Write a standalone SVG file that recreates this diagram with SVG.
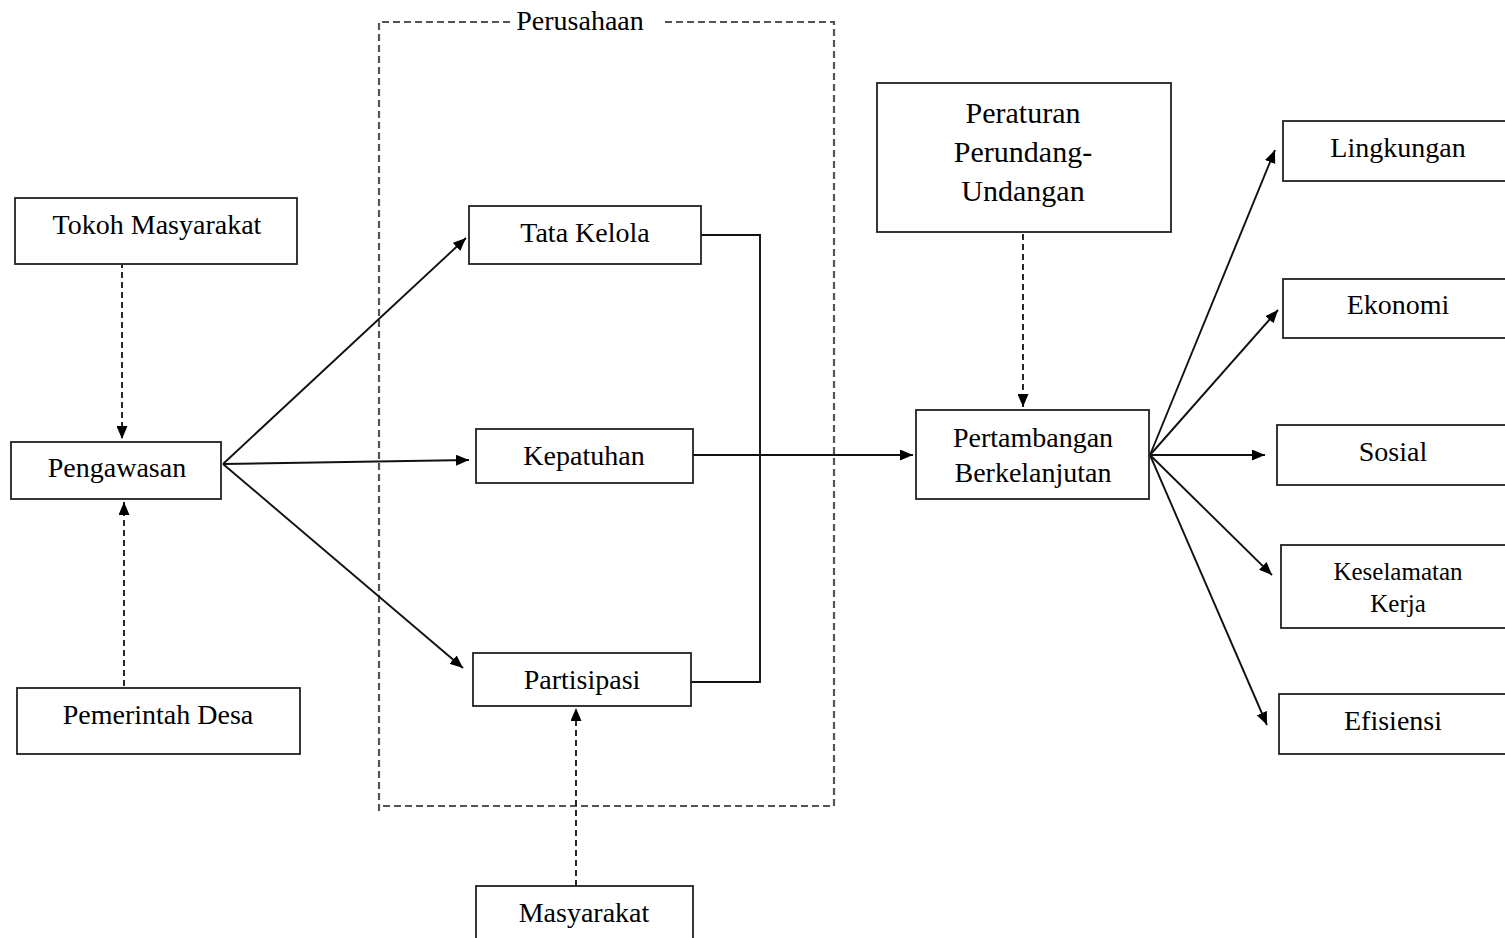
<svg xmlns="http://www.w3.org/2000/svg" width="1505" height="938" viewBox="0 0 1505 938">
<style>
.box{fill:#fff;stroke:#222;stroke-width:1.8}
.t{font-family:"Liberation Serif","Times New Roman",serif;font-size:28px;fill:#000;text-anchor:middle}
.ln{fill:none;stroke:#111;stroke-width:1.9}
.dl{fill:none;stroke:#111;stroke-width:1.8;stroke-dasharray:6,4}
.grp{fill:none;stroke:#555;stroke-width:2.2;stroke-dasharray:7,4}
</style>
<defs>
<marker id="ah" viewBox="0 0 13 11" refX="13" refY="5.5" markerWidth="13" markerHeight="11" markerUnits="userSpaceOnUse" orient="auto">
<path d="M0,0 L13,5.5 L0,11 Z" fill="#000"/>
</marker>
</defs>
<rect width="1505" height="938" fill="#fff"/>

<g id="perusahaan">
<path class="grp" d="M510,22 L379,22 L379,812"/>
<path class="grp" d="M665,22 L834,22 L834,806 L379,806"/>
<text class="t" x="580" y="30">Perusahaan</text>
</g>

<g id="connectors">
<line class="dl" x1="122" y1="262" x2="122" y2="439" marker-end="url(#ah)"/>
<line class="dl" x1="124" y1="686" x2="124" y2="502" marker-end="url(#ah)"/>
<line class="ln" x1="223" y1="464" x2="466" y2="238" marker-end="url(#ah)"/>
<line class="ln" x1="223" y1="464" x2="469" y2="460" marker-end="url(#ah)"/>
<line class="ln" x1="223" y1="464" x2="463" y2="668" marker-end="url(#ah)"/>
<path class="ln" d="M701,235 L760,235 L760,682 L691,682"/>
<line class="ln" x1="693" y1="455" x2="913" y2="455" marker-end="url(#ah)"/>
<line class="dl" x1="576" y1="886" x2="576" y2="708" marker-end="url(#ah)"/>
<line class="dl" x1="1023" y1="234" x2="1023" y2="407" marker-end="url(#ah)"/>
<line class="ln" x1="1150" y1="455" x2="1275" y2="150" marker-end="url(#ah)"/>
<line class="ln" x1="1150" y1="455" x2="1278" y2="310" marker-end="url(#ah)"/>
<line class="ln" x1="1150" y1="455" x2="1265" y2="455" marker-end="url(#ah)"/>
<line class="ln" x1="1150" y1="455" x2="1272" y2="575" marker-end="url(#ah)"/>
<line class="ln" x1="1150" y1="455" x2="1267" y2="725" marker-end="url(#ah)"/>
</g>

<g id="tokoh"><rect class="box" x="15" y="198" width="282" height="66"/><text class="t" x="157" y="234">Tokoh Masyarakat</text></g>
<g id="pengawasan"><rect class="box" x="11" y="442" width="210" height="57"/><text class="t" x="117" y="477">Pengawasan</text></g>
<g id="pemerintah"><rect class="box" x="17" y="688" width="283" height="66"/><text class="t" x="158" y="724">Pemerintah Desa</text></g>
<g id="tatakelola"><rect class="box" x="469" y="206" width="232" height="58"/><text class="t" x="585" y="242">Tata Kelola</text></g>
<g id="kepatuhan"><rect class="box" x="476" y="429" width="217" height="54"/><text class="t" x="584" y="465">Kepatuhan</text></g>
<g id="partisipasi"><rect class="box" x="473" y="653" width="218" height="53"/><text class="t" x="582" y="689">Partisipasi</text></g>
<g id="masyarakat"><rect class="box" x="476" y="886" width="217" height="60"/><text class="t" x="584" y="922">Masyarakat</text></g>
<g id="peraturan"><rect class="box" x="877" y="83" width="294" height="149"/>
<text class="t" style="font-size:30px" x="1023" y="123">Peraturan</text>
<text class="t" style="font-size:30px" x="1023" y="162">Perundang-</text>
<text class="t" style="font-size:30px" x="1023" y="201">Undangan</text></g>
<g id="pertambangan"><rect class="box" x="916" y="410" width="233" height="89"/>
<text class="t" x="1033" y="447">Pertambangan</text>
<text class="t" x="1033" y="482">Berkelanjutan</text></g>
<g id="lingkungan"><rect class="box" x="1283" y="121" width="230" height="60"/><text class="t" x="1398" y="157">Lingkungan</text></g>
<g id="ekonomi"><rect class="box" x="1283" y="279" width="230" height="59"/><text class="t" x="1398" y="314">Ekonomi</text></g>
<g id="sosial"><rect class="box" x="1277" y="425" width="236" height="60"/><text class="t" x="1393" y="461">Sosial</text></g>
<g id="keselamatan"><rect class="box" x="1281" y="545" width="232" height="83"/>
<text class="t" style="font-size:25px" x="1398" y="580">Keselamatan</text>
<text class="t" style="font-size:25px" x="1398" y="612">Kerja</text></g>
<g id="efisiensi"><rect class="box" x="1279" y="694" width="234" height="60"/><text class="t" x="1393" y="730">Efisiensi</text></g>
</svg>
